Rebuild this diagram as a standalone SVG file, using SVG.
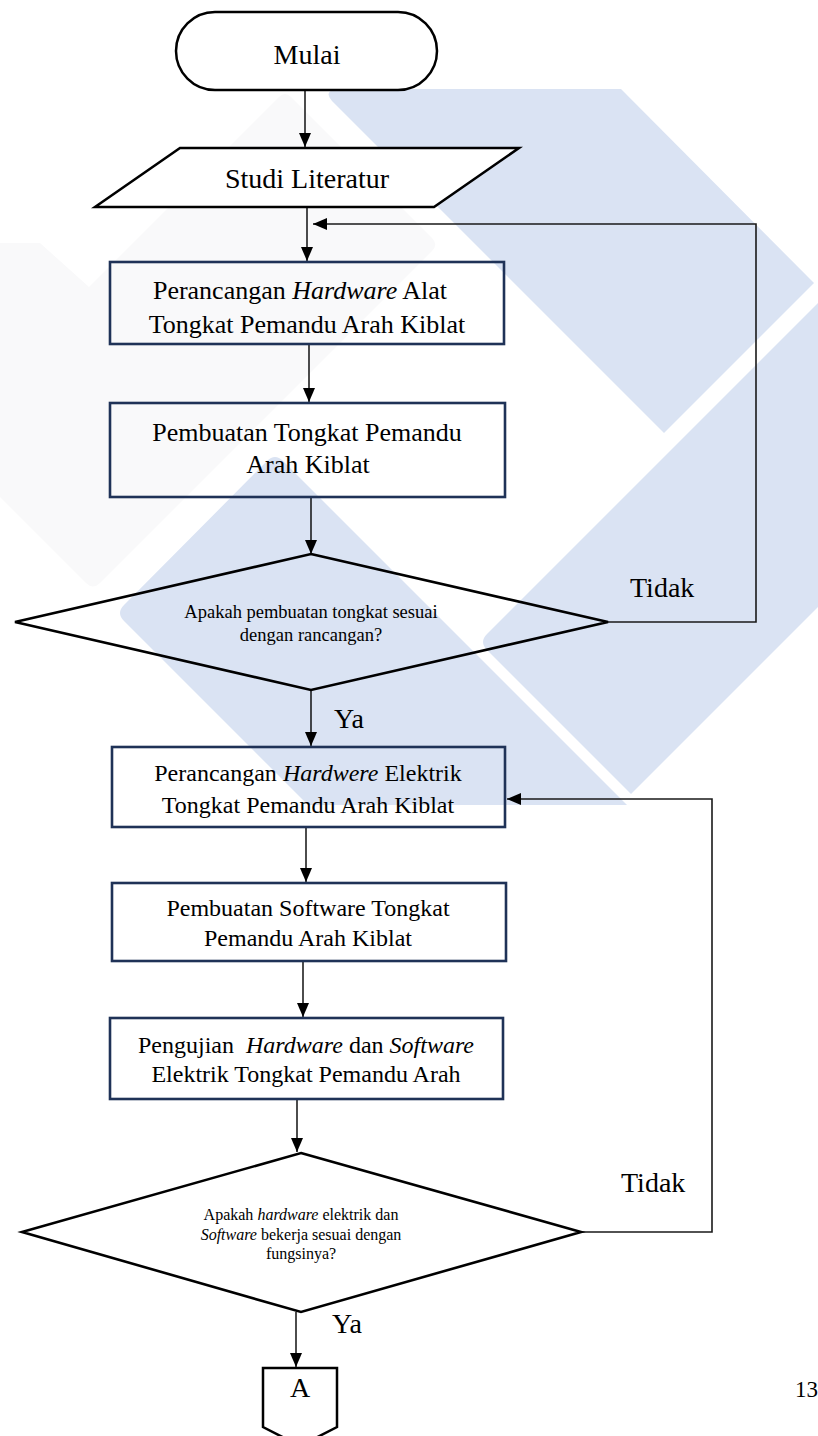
<svg xmlns="http://www.w3.org/2000/svg" width="818" height="1436" viewBox="0 0 818 1436">
  <style>
    .bg { fill: #ffffff; }
    .wm { fill: #dae3f3; }
    .wm-grey { fill: #f9f9fa; }
    .term { fill: #ffffff; stroke: #000000; stroke-width: 2.5; }
    .io { fill: #ffffff; stroke: #000000; stroke-width: 2.5; }
    .proc { fill: none; stroke: #1f3257; stroke-width: 2.6; }
    .dec { fill: none; stroke: #000000; stroke-width: 2.6; stroke-linejoin: miter; }
    .conn { fill: none; stroke: #000000; stroke-width: 1.4; }
    .loop { fill: none; stroke: #1a1a1a; stroke-width: 1.6; }
    text { font-family: "Liberation Serif", "Times New Roman", serif; fill: #000000; text-anchor: middle; }
    .t28 { font-size: 28px; }
    .t26 { font-size: 26px; }
    .t24 { font-size: 24px; }
    .t18 { font-size: 18.5px; }
    .t16 { font-size: 16px; }
    .lbl { font-size: 28px; text-anchor: start; }
    .it { font-style: italic; }
  </style>
  <defs>
    <marker id="ah" viewBox="0 0 14 12" refX="14" refY="6" markerWidth="14" markerHeight="12" markerUnits="userSpaceOnUse" orient="auto">
      <path d="M0,0 L14,6 L0,12 Z" fill="#000000"/>
    </marker>
  </defs>

  <rect class="bg" x="0" y="0" width="818" height="1436"/>

  <!-- background emblem -->
  <g id="emblem">
    <path class="wm-grey" d="M0,243 L40,243 L89,287 L279,97 Q285,91 291,97 L432,238 Q438.5,244.5 432,251 L100,583 Q93,590 86,583 L0,497 Z"/>
    <path class="wm" d="M342,89 L621,89 L814,283 L664,433 L332,101 Q322,89 342,89 Z"/>
    <path class="wm" d="M818,303 L487,634 Q479,642 487,650 L631,794 L818,607 Z"/>
    <path class="wm" d="M627,805 L283,461 Q275,453 267,461 L124,605 Q116,613 124,621 L308,805 Z"/>
  </g>

  <!-- connectors -->
  <g id="connectors">
    <line class="conn" x1="305" y1="90" x2="305" y2="147" marker-end="url(#ah)"/>
    <line class="conn" x1="307" y1="207" x2="307" y2="261" marker-end="url(#ah)"/>
    <polyline class="loop" points="608,622 756,622 756,224 313,224" marker-end="url(#ah)"/>
    <line class="conn" x1="309" y1="344" x2="309" y2="402" marker-end="url(#ah)"/>
    <line class="conn" x1="311" y1="497" x2="311" y2="554" marker-end="url(#ah)"/>
    <line class="conn" x1="311" y1="690" x2="311" y2="746" marker-end="url(#ah)"/>
    <line class="conn" x1="306" y1="827" x2="306" y2="882" marker-end="url(#ah)"/>
    <line class="conn" x1="303" y1="961" x2="303" y2="1017" marker-end="url(#ah)"/>
    <line class="conn" x1="297" y1="1099" x2="297" y2="1152" marker-end="url(#ah)"/>
    <polyline class="loop" points="581,1232 712,1232 712,799 507,799" marker-end="url(#ah)"/>
    <line class="conn" x1="296" y1="1312" x2="296" y2="1367" marker-end="url(#ah)"/>
    <text class="lbl" x="630" y="597">Tidak</text>
    <text class="lbl" x="334" y="728">Ya</text>
    <text class="lbl" x="621" y="1192">Tidak</text>
    <text class="lbl" x="332" y="1333">Ya</text>
  </g>

  <g id="mulai">
    <rect class="term" x="176" y="12" width="261" height="78" rx="39" ry="39"/>
    <text class="t28" x="307" y="64">Mulai</text>
  </g>

  <g id="studi-literatur">
    <polygon class="io" points="180,148 519,148 434,207 95,207"/>
    <text class="t28" x="307" y="188">Studi Literatur</text>
  </g>

  <g id="perancangan-hardware">
    <rect class="proc" x="110" y="262" width="394" height="82"/>
    <text class="t26" x="300" y="299">Perancangan <tspan class="it">Hardware</tspan> Alat</text>
    <text class="t26" x="307" y="333">Tongkat Pemandu Arah Kiblat</text>
  </g>

  <g id="pembuatan-tongkat">
    <rect class="proc" x="110" y="403" width="395" height="94"/>
    <text class="t26" x="307" y="441">Pembuatan Tongkat Pemandu</text>
    <text class="t26" x="308" y="473">Arah Kiblat</text>
  </g>

  <g id="cek-rancangan">
    <polygon class="dec" points="311,554 608,622 311,690 15,622"/>
    <text class="t18" x="311" y="618">Apakah pembuatan tongkat sesuai</text>
    <text class="t18" x="311" y="641">dengan rancangan?</text>
  </g>

  <g id="perancangan-elektrik">
    <rect class="proc" x="112" y="747" width="393" height="80"/>
    <text class="t24" x="308" y="781">Perancangan <tspan class="it">Hardwere</tspan> Elektrik</text>
    <text class="t24" x="308" y="813">Tongkat Pemandu Arah Kiblat</text>
  </g>

  <g id="pembuatan-software">
    <rect class="proc" x="112" y="883" width="394" height="78"/>
    <text class="t24" x="308" y="916">Pembuatan Software Tongkat</text>
    <text class="t24" x="308" y="946">Pemandu Arah Kiblat</text>
  </g>

  <g id="pengujian">
    <rect class="proc" x="110" y="1018" width="393" height="81"/>
    <text class="t24" x="306" y="1053">Pengujian <tspan class="it" dx="6">Hardware</tspan> dan <tspan class="it">Software</tspan></text>
    <text class="t24" x="306" y="1082">Elektrik Tongkat Pemandu Arah</text>
  </g>

  <g id="cek-fungsi">
    <polygon class="dec" points="301,1153 581,1232 301,1312 22,1232"/>
    <text class="t16" x="301" y="1220">Apakah <tspan class="it">hardware</tspan> elektrik dan</text>
    <text class="t16" x="301" y="1240"><tspan class="it">Software</tspan> bekerja sesuai dengan</text>
    <text class="t16" x="301" y="1259">fungsinya?</text>
  </g>

  <g id="konektor-a">
    <polygon class="term" points="263,1368 337,1368 337,1427 300,1446 263,1427"/>
    <text class="t28" x="300" y="1397">A</text>
  </g>

  <g id="halaman">
    <text style="font-size:23px;text-anchor:start" x="795" y="1397">13</text>
  </g>
</svg>
